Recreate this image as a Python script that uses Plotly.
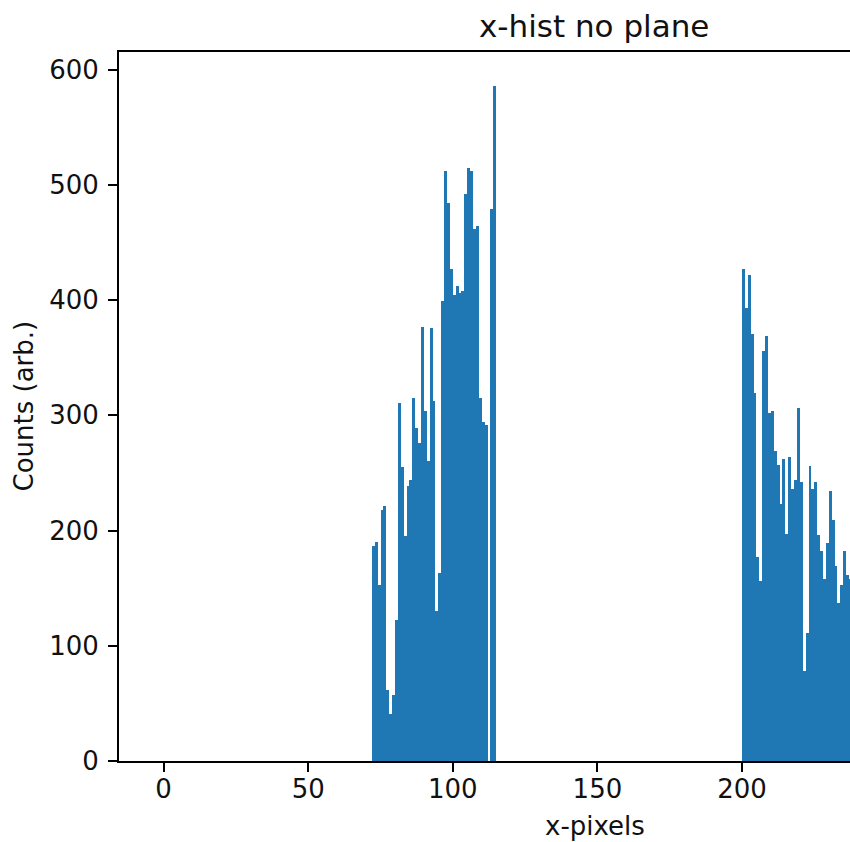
import plotly.graph_objects as go

# ---- data (1-pixel bins) ----
left_first_bin = 72
left_counts = [187, 190, 153, 218, 221, 62, 41, 57, 122, 311,
               255, 195, 239, 244, 315, 289, 276, 377, 304, 260,
               376, 312, 130, 163, 399, 512, 484, 427, 404, 412,
               406, 408, 492, 515, 512, 462, 464, 315, 294, 292,
               0, 479, 586]
right_first_bin = 200
right_counts = [427, 393, 422, 371, 319, 177, 156, 356, 369, 302,
                304, 269, 257, 223, 262, 197, 264, 236, 244, 306,
                242, 78, 111, 256, 236, 242, 196, 182, 158, 189,
                234, 209, 169, 137, 153, 182, 161, 158]
x_ticks = [0, 50, 100, 150, 200]
y_ticks = [0, 100, 200, 300, 400, 500, 600]
title_text = "x-hist no plane"
x_label = "x-pixels"
y_label = "Counts (arb.)"

bin_left = ([left_first_bin + i for i in range(len(left_counts))]
            + [right_first_bin + i for i in range(len(right_counts))])
counts = left_counts + right_counts
centers = [b + 0.5 for b in bin_left]

FONT = "DejaVu Sans"
W, H = 850, 842
L, R, T, B = 119, 0, 52, 81
pw = W - L - R
ph = H - T - B

fig = go.Figure()
fig.add_trace(go.Bar(
    x=centers, y=counts, width=1.0,
    marker=dict(color="#1f77b4", line=dict(width=0)),
    showlegend=False, hoverinfo="skip",
))

axis_common = dict(
    showgrid=False, zeroline=False, showline=True, linecolor="black",
    linewidth=2, ticks="outside", ticklen=9, tickwidth=2, tickcolor="black",
    tickfont=dict(family=FONT, size=26, color="#111111"),
)

fig.update_layout(
    width=W, height=H,
    margin=dict(l=L, r=R, t=T, b=B, pad=0),
    paper_bgcolor="white", plot_bgcolor="white",
    bargap=0,
    xaxis=dict(range=[(L - 163.6) / 2.892, (W - 163.6) / 2.892],
               tickvals=x_ticks, mirror=True,
               ticklabelstandoff=-5, **axis_common),
    yaxis=dict(range=[0, 615.3], tickvals=y_ticks,
               ticklabelstandoff=4, **axis_common),
    annotations=[
        dict(text=title_text, xref="paper", yref="paper",
             x=(594 - L) / pw, y=1 + (T - 26) / ph, xanchor="center",
             yanchor="middle", showarrow=False,
             font=dict(family=FONT, size=31, color="#111111")),
        dict(text=x_label, xref="paper", yref="paper",
             x=(595 - L) / pw, y=-(826 - (H - B)) / ph, xanchor="center",
             yanchor="middle", showarrow=False,
             font=dict(family=FONT, size=26, color="#111111")),
        dict(text=y_label, xref="paper", yref="paper",
             x=(23 - L) / pw, y=0.5, xanchor="center", yanchor="middle",
             textangle=-90, showarrow=False,
             font=dict(family=FONT, size=26, color="#111111")),
    ],
)

fig.write_html(
    "out.html",
    config={"displayModeBar": False},
    post_script="document.body.style.margin='0';"
                "document.body.style.padding='0';"
                "document.body.style.overflow='hidden';",
)
